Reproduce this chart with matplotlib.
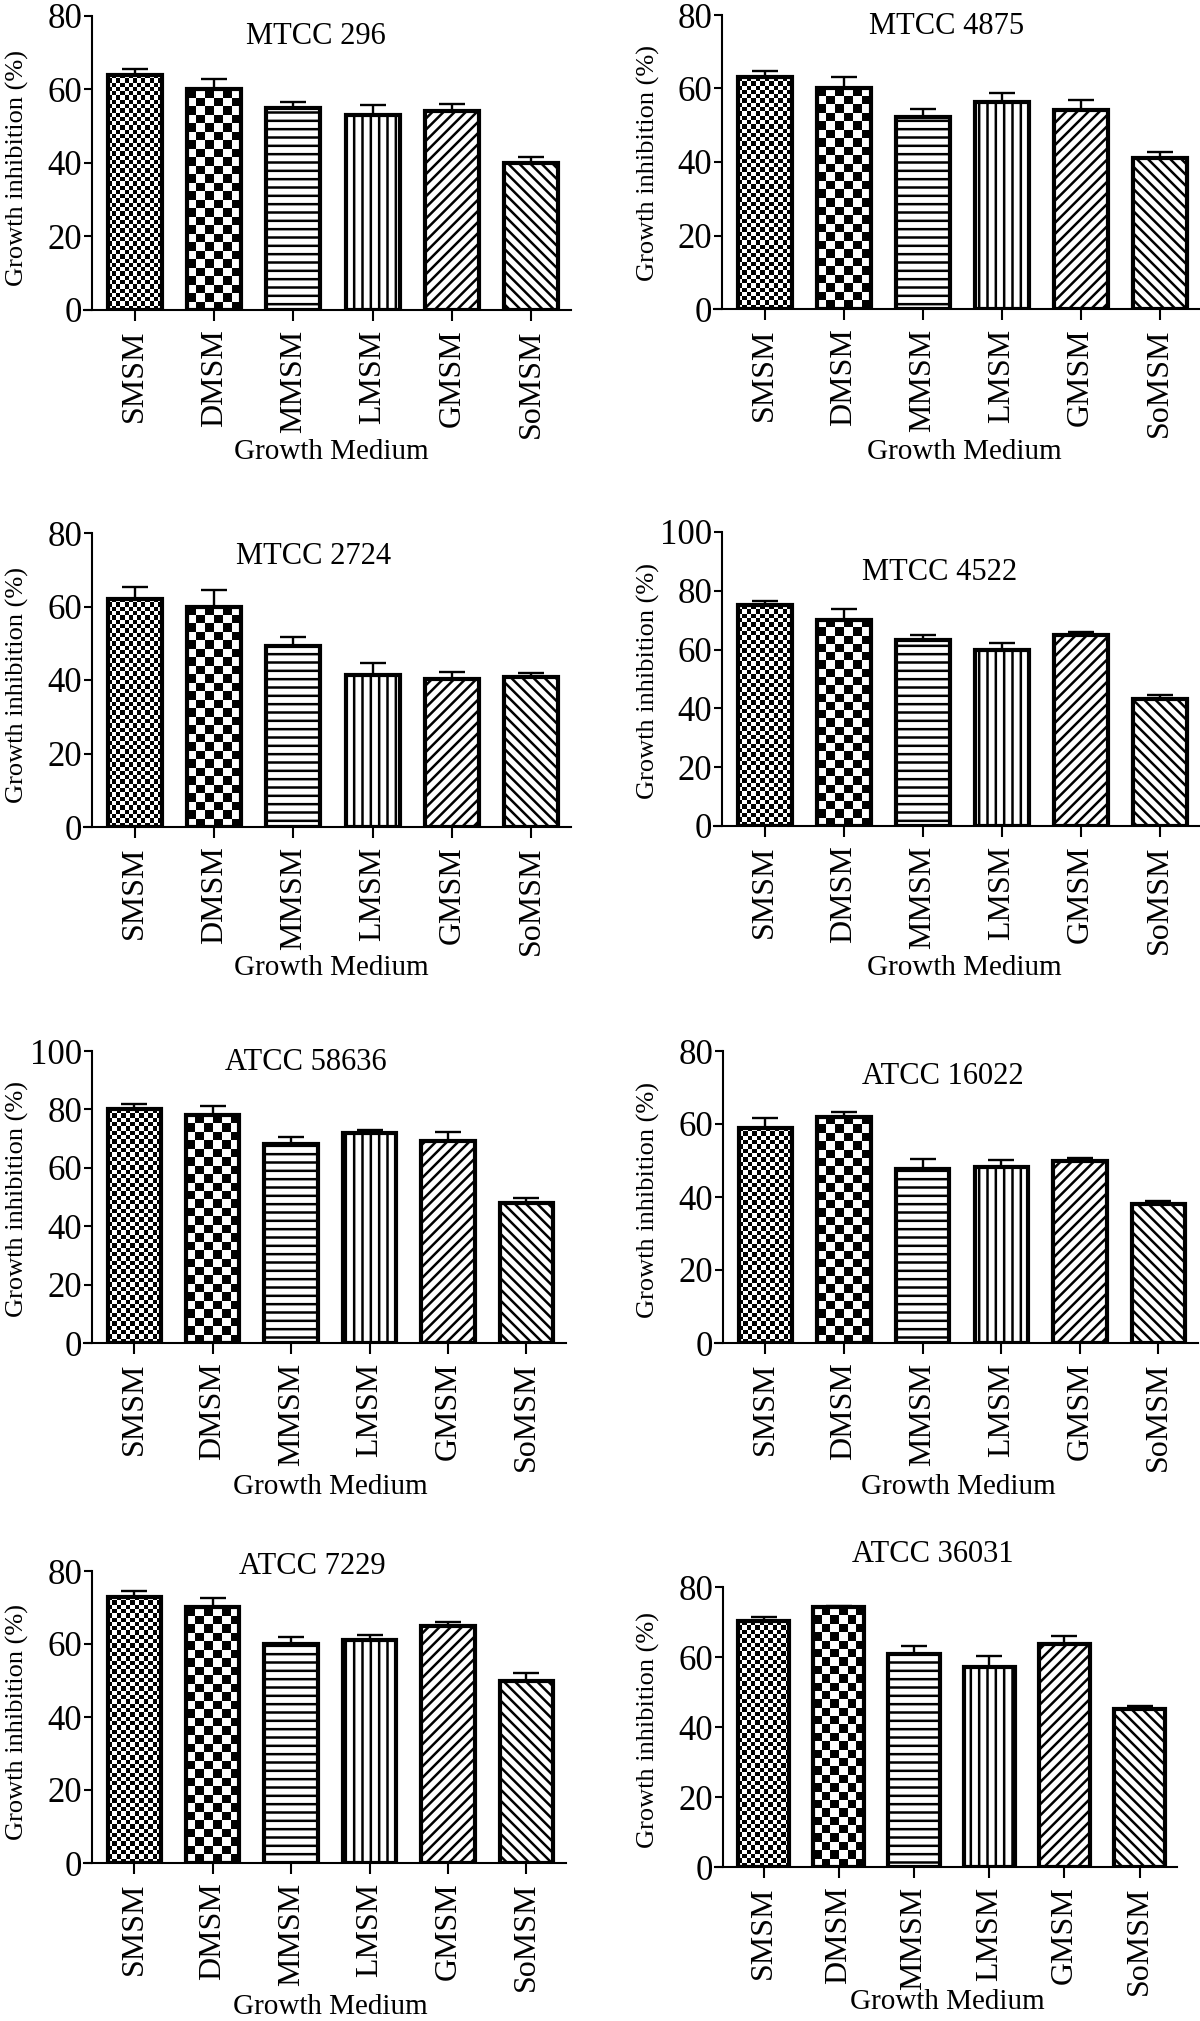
import numpy as np
import matplotlib
matplotlib.use("Agg")
from matplotlib import pyplot as plt

plt.rcParams['font.family'] = ['Liberation Serif', 'DejaVu Serif']
plt.rcParams['hatch.linewidth'] = 1.8
plt.rcParams['hatch.color'] = 'black'

# ---- data ----
media = ["SMSM", "DMSM", "MMSM", "LMSM", "GMSM", "SoMSM"]
strains = ["MTCC 296", "MTCC 4875", "MTCC 2724", "MTCC 4522",
           "ATCC 58636", "ATCC 16022", "ATCC 7229", "ATCC 36031"]

mtcc296 = [64.0, 60.0, 55.0, 53.0, 54.0, 40.0]
mtcc296_err = [1.5, 2.7, 1.6, 2.7, 2.1, 1.7]
mtcc4875 = [63.0, 60.2, 52.2, 56.2, 54.1, 41.1]
mtcc4875_err = [1.7, 3.0, 2.1, 2.7, 2.8, 1.5]
mtcc2724 = [62.1, 60.0, 49.2, 41.4, 40.2, 40.7]
mtcc2724_err = [3.2, 4.4, 2.5, 3.3, 1.9, 1.1]
mtcc4522 = [75.1, 70.2, 63.1, 60.0, 65.0, 43.1]
mtcc4522_err = [1.5, 3.5, 2.0, 2.1, 0.9, 1.4]
atcc58636 = [80.0, 78.0, 68.0, 72.0, 69.1, 48.1]
atcc58636_err = [2.0, 3.2, 2.4, 0.9, 3.2, 1.5]
atcc16022 = [59.0, 62.0, 47.7, 48.1, 49.9, 38.1]
atcc16022_err = [2.7, 1.4, 2.6, 2.0, 0.9, 0.8]
atcc7229 = [73.0, 70.1, 60.0, 61.0, 65.0, 49.9]
atcc7229_err = [1.5, 2.5, 2.0, 1.5, 1.0, 2.1]
atcc36031 = [70.2, 74.2, 61.0, 57.1, 63.8, 45.1]
atcc36031_err = [1.2, 0.3, 2.2, 3.3, 2.2, 1.0]

values = [mtcc296, mtcc4875, mtcc2724, mtcc4522, atcc58636, atcc16022, atcc7229, atcc36031]
errors = [mtcc296_err, mtcc4875_err, mtcc2724_err, mtcc4522_err,
          atcc58636_err, atcc16022_err, atcc7229_err, atcc36031_err]
y_max = [80, 80, 80, 100, 100, 80, 80, 80]

# ---- layout in pixels of the 1200x2021 canvas ----
# (y-axis x, bar spacing, top y, zero y, title xy, xlabel xy, ylabel xy)
layout = [
    (92, 79.3, 15.7, 310, (316, 37), (331, 452), (17, 168)),
    (722, 79.0, 15, 309, (947, 27), (964, 452), (648, 163)),
    (92, 79.3, 533, 827, (314, 557), (331, 968), (17, 685)),
    (722, 79.0, 532, 826, (940, 572), (964, 968), (648, 681)),
    (92, 78.4, 1051, 1343, (306, 1063), (330, 1487), (17, 1199)),
    (723, 78.6, 1051, 1343, (943, 1077), (958, 1487), (648, 1200)),
    (92, 78.4, 1571, 1863, (312, 1567), (330, 2007), (17, 1722)),
    (723, 75.2, 1587, 1867, (933, 1555), (947, 2002), (648, 1730)),
]

hatches = [None, None, '--', '||', '///', '\\\\\\']
checker_px = {0: 4.3, 1: 8.4}   # square size of the two checkerboard fills

W_PX, H_PX = 1200, 2021
fig = plt.figure(figsize=(12, 20.21), dpi=100)


def fx(x):
    return x / W_PX


def fy(y):
    return 1 - y / H_PX


x_lo, x_hi = -0.64, 5.5
bar_w = 0.68

for k in range(8):
    yax, sp, top, zero, t_xy, xl_xy, yl_xy = layout[k]
    left = yax - 0.1 * sp
    width = (x_hi - x_lo) * sp
    ax = fig.add_axes([fx(left), fy(zero), width / W_PX, (zero - top) / H_PX])

    xs = np.arange(len(media))
    vals = values[k]

    bars = ax.bar(xs, vals, width=bar_w, color='white', edgecolor='black',
                  linewidth=0, zorder=1)
    for i, b in enumerate(bars):
        if hatches[i]:
            b.set_hatch(hatches[i])

    # checkerboard fills, clipped to their bars
    px_per_y = (zero - top) / y_max[k]
    for i in (0, 1):
        b = bars[i]
        x0 = b.get_x()
        bw = b.get_width()
        h = b.get_height()
        nx = max(1, int(round(bw * sp / checker_px[i])))
        ny = max(1, int(round(h * px_per_y / checker_px[i])))
        board = np.indices((ny, nx)).sum(axis=0) % 2
        im = ax.imshow(board, cmap='binary', extent=(x0, x0 + bw, 0, h),
                       aspect='auto', interpolation='nearest', zorder=1.5,
                       origin='lower')
        im.set_clip_path(b)

    # outline on top of the fills
    ax.bar(xs, vals, width=bar_w, fill=False, edgecolor='black', linewidth=3.0, zorder=3)

    ax.errorbar(xs, vals, yerr=[np.zeros(len(vals)), errors[k]], fmt='none',
                ecolor='black', elinewidth=1.7, capsize=9.5, capthick=1.7, zorder=0.5)

    ax.set_xlim(x_lo, x_hi)
    ax.set_ylim(0, y_max[k])
    ax.set_yticks(np.arange(0, y_max[k] + 1, 20))
    ax.set_xticks(xs)
    ax.set_xticklabels(media, rotation=90, fontsize=23)
    ax.tick_params(axis='y', labelsize=25, length=6, width=1.5, pad=1)
    ax.tick_params(axis='x', length=8, width=1.5, pad=6)

    for s in ('top', 'right'):
        ax.spines[s].set_visible(False)
    ax.spines['left'].set_position(('data', -0.54))
    ax.spines['left'].set_linewidth(1.5)
    ax.spines['bottom'].set_linewidth(1.5)
    ax.patch.set_visible(False)

    fig.text(fx(t_xy[0]), fy(t_xy[1]), strains[k], fontsize=22, ha='center', va='center')
    fig.text(fx(xl_xy[0]), fy(xl_xy[1]), "Growth Medium", fontsize=21, ha='center', va='center')
    fig.text(fx(yl_xy[0]), fy(yl_xy[1]), "Growth inhibition (%)", fontsize=19,
             ha='center', va='center', rotation=90)

fig.savefig("out.png", dpi=100, facecolor='white')
